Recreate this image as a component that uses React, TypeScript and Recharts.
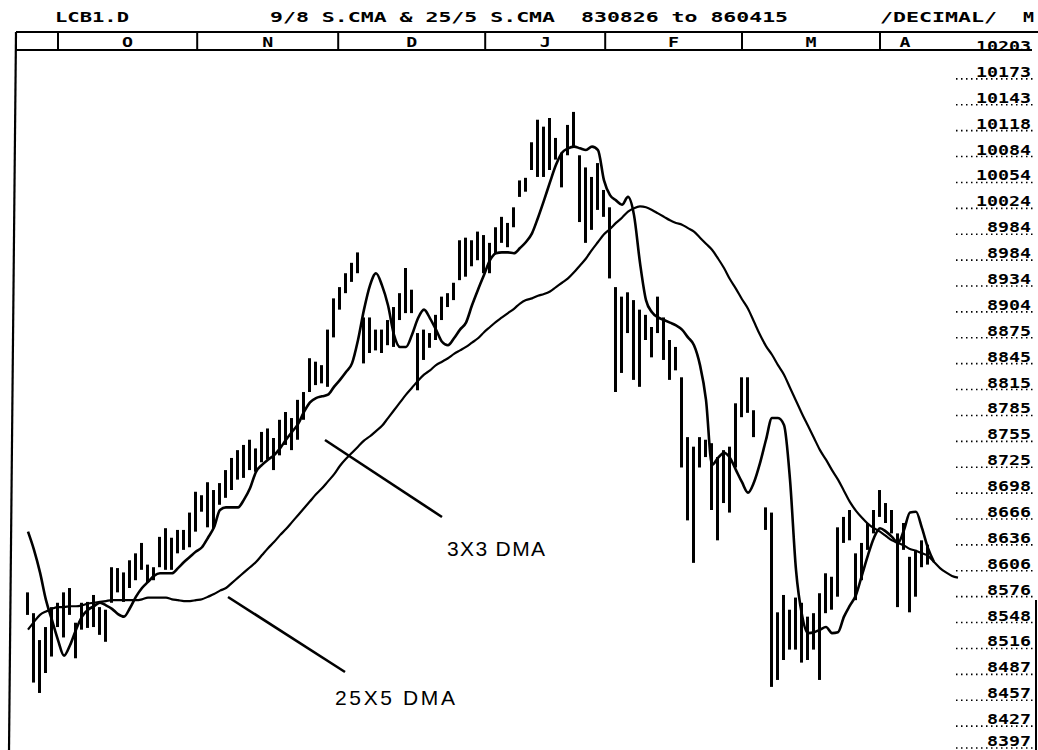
import React from "react";
import { ComposedChart, Bar, Line, XAxis, YAxis } from "recharts";

// daily high / low, one entry per trading day (null = no bar)
const barHigh: (number | null)[] = [
  8573, 8549, 8518, 8533, 8556, 8561, 8573, 8578, 8538, 8561,
  8562, 8570, 8556, 8553, 8602, 8601, 8596, 8610, 8618, 8630,
  8605, 8602, 8637, 8647, 8636, 8645, 8645, 8665, 8689, 8685,
  8700, 8691, 8699, 8714, 8728, 8737, 8743, 8749, 8739, 8758,
  8762, 8751, 8772, 8781, 8774, 8795, 8804, 8843, 8839, 8835,
  8876, 8912, 8925, 8941, 8953, 8965, 8890, 8890, 8876, 8876,
  8887, 8902, 8918, 8947, 8922, 8872, 8876, 8872, 8893, 8914,
  8918, 8930, 8979, 8982, 8979, 8989, 8985, 8976, 8994, 9006,
  8999, 9017, 9048, 9051, 9092, 9118, 9110, 9120, 9097, 9080,
  9112, 9127, 9077, 9063, 9052, 9068, 9037, 9017, 8925, 8914,
  8919, 8910, 8899, 8893, 8879, 8914, 8890, 8864, 8856, 8821,
  8752, 8741, 8752, 8749, 8745, 8729, 8737, 8741, 8791, 8821,
  8821, 8783, null, 8671, 8665, 8550, 8570, 8553, 8567, 8561,
  8545, 8549, 8572, 8595, 8591, 8648, 8660, 8668, 8618, 8630,
  8653, 8668, 8691, 8676, 8668, 8641, 8653, 8614, 8622, 8633,
  8628,
];

const barLow: (number | null)[] = [
  8547, 8469, 8457, 8480, 8499, 8533, 8521, 8547, 8497, 8530,
  8532, 8533, 8524, 8516, 8561, 8573, 8562, 8578, 8587, 8599,
  8584, 8587, 8602, 8599, 8599, 8618, 8622, 8625, 8643, 8666,
  8648, 8647, 8674, 8682, 8691, 8703, 8705, 8714, 8712, 8723,
  8726, 8714, 8731, 8743, 8737, 8749, 8772, 8804, 8812, 8814,
  8810, 8867, 8899, 8918, 8931, 8941, 8837, 8849, 8852, 8849,
  8858, 8856, 8887, 8895, 8895, 8806, 8841, 8855, 8864, 8887,
  8902, 8910, 8933, 8937, 8949, 8956, 8941, 8941, 8964, 8976,
  8971, 8994, 9029, 9035, 9060, 9052, 9052, 9060, 9072, 9040,
  9077, 9087, 9000, 8976, 8991, 9014, 9006, 8935, 8804, 8826,
  8872, 8818, 8810, 8864, 8844, 8872, 8841, 8818, 8829, 8717,
  8656, 8607, 8717, 8729, 8668, 8633, 8676, 8665, 8717, 8775,
  8780, 8752, null, 8645, 8464, 8472, 8495, 8507, 8507, 8492,
  8495, 8507, 8472, 8549, 8553, 8568, 8630, 8633, 8564, 8587,
  8622, 8641, 8660, 8653, 8641, 8556, 8622, 8550, 8568, 8602,
  8605,
];

// 3-day average displaced 3 days
const ma3x3 = [
  8643, 8622, 8596, 8564, 8541, 8518, 8500, 8512, 8530, 8545,
  8553, 8557, 8561, 8558, 8554, 8548, 8545, 8555, 8568, 8578,
  8585, 8592, 8595, 8595, 8595, 8601, 8608, 8614, 8620, 8625,
  8636, 8648, 8668, 8671, 8671, 8671, 8680, 8693, 8712, 8720,
  8726, 8731, 8739, 8749, 8758, 8767, 8781, 8792, 8797, 8799,
  8801, 8810, 8818, 8827, 8837, 8864, 8899, 8927, 8941, 8927,
  8904, 8870, 8856, 8856, 8870, 8889, 8899, 8889, 8876, 8862,
  8858, 8866, 8876, 8884, 8904, 8922, 8939, 8956, 8964, 8965,
  8965, 8964, 8970, 8977, 8987, 9005, 9025, 9046, 9066, 9080,
  9085, 9087, 9085, 9083, 9087, 9083, 9048, 9031, 9025, 9020,
  9029, 9008, 8953, 8910, 8896, 8890, 8887, 8884, 8881, 8876,
  8867, 8858, 8835, 8795, 8720, 8728, 8734, 8728, 8714, 8700,
  8688, 8700, 8722, 8749, 8774, 8774, 8766, 8703, 8599, 8547,
  8526, 8527, 8530, 8533, 8526, 8527, 8545, 8558, 8570, 8593,
  8616, 8636, 8647, 8643, 8637, 8630, 8645, 8665, 8666, 8647,
  8624, 8608,
];

// 25-day average displaced 5 days
const ma25x5 = [
  8530, 8539, 8547, 8551, 8554, 8556, 8556, 8557, 8557, 8558,
  8560, 8561, 8562, 8563, 8564, 8564, 8564, 8564, 8564, 8565,
  8567, 8567, 8567, 8567, 8565, 8564, 8563, 8563, 8564, 8565,
  8568, 8571, 8575, 8578, 8584, 8590, 8596, 8602, 8608, 8616,
  8624, 8631, 8639, 8646, 8654, 8662, 8670, 8678, 8686, 8693,
  8701, 8709, 8719, 8727, 8734, 8741, 8748, 8753, 8759, 8765,
  8774, 8783, 8792, 8801, 8809, 8817, 8824, 8829, 8835, 8839,
  8843, 8848, 8852, 8856, 8861, 8866, 8873, 8879, 8885, 8890,
  8895, 8900, 8906, 8910, 8912, 8915, 8917, 8920, 8925, 8930,
  8935, 8942, 8950, 8958, 8968, 8977, 8986, 8992, 8999, 9005,
  9012, 9016, 9018, 9017, 9014, 9010, 9006, 9002, 8999, 8997,
  8993, 8989, 8982, 8975, 8968, 8958, 8947, 8934, 8923, 8911,
  8900, 8885, 8870, 8857, 8847, 8835, 8824, 8809, 8794, 8779,
  8765, 8751, 8737, 8726, 8714, 8703, 8690, 8677, 8667, 8659,
  8652, 8647, 8643, 8638, 8633, 8630, 8627, 8623, 8621, 8618,
  8615, 8608, 8601, 8596, 8592, 8590,
];

// right-hand scale, top to bottom, as printed
const priceLabels = [
  "10203", "10173", "10143", "10118", "10084", "10054", "10024",
  "8984", "8984", "8934", "8904", "8875", "8845", "8815", "8785",
  "8755", "8725", "8698", "8666", "8636", "8606", "8576", "8548",
  "8516", "8487", "8457", "8427", "8397",
];

const monthLabels = ["O", "N", "D", "J", "F", "M", "A"];
// month boundaries, in trading-day index
const monthStarts = [5, 28.2, 51.7, 76.2, 96.2, 119, 142];

const PRICE_MIN = 8397;
const PRICE_MAX = 9203;
const STEP = (PRICE_MAX - PRICE_MIN) / (priceLabels.length - 1);
const priceTicks = priceLabels.map((_, k) => PRICE_MIN + k * STEP);

const X_MIN = -3;
const X_MAX = 156;
const PLOT_LEFT = 10;
const PLOT_RIGHT = 964;
const xPix = (i: number) => PLOT_LEFT + ((i - X_MIN) / (X_MAX - X_MIN)) * (PLOT_RIGHT - PLOT_LEFT);

const rows = ma25x5.map((m, i) => ({
  i,
  range:
    i < barHigh.length && barHigh[i] != null && barLow[i] != null
      ? [barLow[i] as number, barHigh[i] as number]
      : null,
  ma3: i < ma3x3.length ? ma3x3[i] : null,
  ma25: m,
}));

const mono = "'DejaVu Sans Mono', monospace";

function PriceTick(props: any) {
  const { y, payload } = props;
  const k = Math.round((payload.value - PRICE_MIN) / STEP);
  const label = priceLabels[priceLabels.length - 1 - k];
  const isTop = k === priceLabels.length - 1;
  // bottom label sits on the page edge, keep it inside
  const baseline = Math.min(y + 5, 746);
  return (
    <g>
      {!isTop && (
        <line
          x1={956}
          x2={1034}
          y1={Math.min(y + 7, 748)}
          y2={Math.min(y + 7, 748)}
          stroke="#000"
          strokeWidth={1.6}
          strokeDasharray="1.5 3.5"
        />
      )}
      <text
        x={1031}
        y={baseline}
        textAnchor="end"
        fontFamily={mono}
        fontWeight="bold"
        fontSize={14}
        textLength={label.length * 11}
        lengthAdjust="spacingAndGlyphs"
        fill="#000"
      >
        {label}
      </text>
    </g>
  );
}

function Header() {
  const bandTop = 32;
  const bandBottom = 50;
  const seps = [16, ...monthStarts.map(xPix)];
  const textProps = {
    fontFamily: mono,
    fontWeight: "bold" as const,
    fontSize: 14,
    fill: "#000",
    lengthAdjust: "spacingAndGlyphs",
  };
  return (
    <svg
      width={1038}
      height={750}
      style={{ position: "absolute", left: 0, top: 0, pointerEvents: "none" }}
    >
      <text x={55} y={22} textLength={74} {...textProps}>LCB1.D</text>
      <text x={270} y={22} textLength={285} {...textProps}>9/8 S.CMA &amp; 25/5 S.CMA</text>
      <text x={581} y={22} textLength={207} {...textProps}>830826 to 860415</text>
      <text x={880} y={22} textLength={117} {...textProps}>/DECIMAL/</text>
      <text x={1023} y={22} textLength={11} {...textProps}>M</text>

      <line x1={16} x2={1038} y1={bandTop} y2={bandTop} stroke="#000" strokeWidth={2} />
      <line x1={16} x2={1032} y1={bandBottom} y2={bandBottom} stroke="#000" strokeWidth={2} />
      {seps.map((x, j) => (
        <line key={j} x1={x} x2={x} y1={bandTop} y2={bandBottom} stroke="#000" strokeWidth={2} />
      ))}
      {monthLabels.map((m, j) => {
        const left = xPix(monthStarts[j]);
        const right = j + 1 < monthStarts.length ? xPix(monthStarts[j + 1]) : left + 50;
        return (
          <text key={m + j} x={(left + right) / 2} y={47} textAnchor="middle" textLength={11} {...textProps}>
            {m}
          </text>
        );
      })}

      {/* frame edges of the printout */}
      <line x1={16} y1={bandTop} x2={9} y2={750} stroke="#000" strokeWidth={2.2} />
      <line x1={1036} y1={600} x2={1036} y2={750} stroke="#000" strokeWidth={2} />

      {/* annotations */}
      <line x1={325} y1={440} x2={442} y2={517} stroke="#000" strokeWidth={2.6} />
      <text x={447} y={556} fontFamily="'Liberation Sans', Arial, sans-serif" fontSize={21} fill="#000" textLength={98} lengthAdjust="spacing">
        3X3 DMA
      </text>
      <line x1={228} y1={597} x2={345} y2={672} stroke="#000" strokeWidth={2.6} />
      <text x={335} y={705} fontFamily="'Liberation Sans', Arial, sans-serif" fontSize={21} fill="#000" textLength={120} lengthAdjust="spacing">
        25X5 DMA
      </text>
    </svg>
  );
}

export default function App() {
  return (
    <div style={{ position: "absolute", left: 0, top: 0, width: 1038, height: 750, background: "#fff" }}>
      <ComposedChart
        width={1038}
        height={750}
        data={rows}
        margin={{ top: 46, right: 0, bottom: 5, left: PLOT_LEFT }}
      >
        <XAxis dataKey="i" type="number" domain={[X_MIN, X_MAX]} hide allowDataOverflow />
        <YAxis
          orientation="right"
          width={1038 - PLOT_RIGHT}
          type="number"
          domain={[PRICE_MIN, PRICE_MAX]}
          ticks={priceTicks}
          interval={0}
          allowDataOverflow
          axisLine={false}
          tickLine={false}
          tick={(p: any) => <PriceTick {...p} />}
        />
        <Bar dataKey="range" fill="#000" barSize={3} isAnimationActive={false} />
        <Line
          dataKey="ma25"
          type="monotone"
          stroke="#000"
          strokeWidth={2.2}
          dot={false}
          isAnimationActive={false}
        />
        <Line
          dataKey="ma3"
          type="monotone"
          stroke="#000"
          strokeWidth={2.6}
          dot={false}
          isAnimationActive={false}
        />
      </ComposedChart>
      <Header />
    </div>
  );
}
